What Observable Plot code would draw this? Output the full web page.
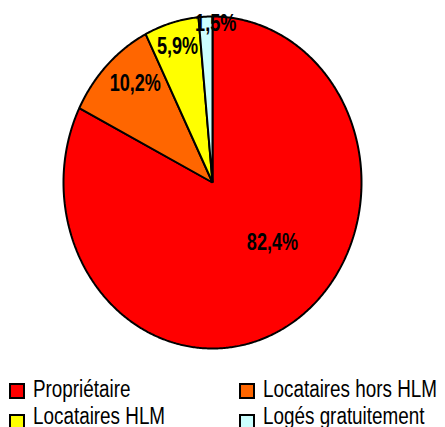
<!DOCTYPE html>
<html><head><meta charset="utf-8">
<script src="https://cdn.jsdelivr.net/npm/d3@7"></script>
<script src="https://cdn.jsdelivr.net/npm/@observablehq/plot@0.6"></script>
<style>
body{margin:0;background:#fff;}
#chart{position:relative;width:445px;height:427px;overflow:hidden;font-family:"Liberation Sans",Arial,sans-serif;}
#chart svg{position:absolute;left:0;top:0;}
.sw{position:absolute;width:16px;height:16px;box-sizing:border-box;border:2px solid #000;}
.lt{position:absolute;font-size:23px;line-height:23px;white-space:nowrap;color:#000;transform:scaleX(0.82);transform-origin:0 0;}
</style></head><body><div id="chart"></div><script>
const categories = ["Propriétaire","Locataires hors HLM","Locataires HLM","Logés gratuitement"];
const values = [82.4, 10.2, 5.9, 1.5];
const labels = ["82,4%","10,2%","5,9%","1,5%"];
const colors = ["#ff0000","#ff6600","#ffff00","#ccffff"];
const labelRadius = [0.54, 0.79, 0.85, 0.96];
const labelTurn = [-16.5, 4, 0, 4];

const data = categories.map((c,i)=>({cat:c, value:values[i], label:labels[i], i}));
const arcs = d3.pie().sort(null).value(d=>d.value)(data);

const slices = arcs.map(a=>{
  const pts=[{x:0,y:0}];
  const n=Math.max(2,Math.ceil((a.endAngle-a.startAngle)/(Math.PI/360)));
  for(let k=0;k<=n;k++){
    const t=a.startAngle+(a.endAngle-a.startAngle)*k/n;
    pts.push({x:Math.sin(t),y:Math.cos(t)});
  }
  return pts;
});
const labelData = arcs.map(a=>{
  const i=a.data.i;
  const t=(a.startAngle+a.endAngle)/2+labelTurn[i]*Math.PI/180;
  return {x:labelRadius[i]*Math.sin(t), y:labelRadius[i]*Math.cos(t), text:a.data.label};
});

const font='"Liberation Sans",Arial,sans-serif';
const plot = Plot.plot({
  width:445, height:370, margin:0,
  style:{background:"transparent"},
  x:{domain:[-1,1], range:[63,361], axis:null},
  y:{domain:[-1,1], range:[348,16], axis:null},
  marks:[
    ...slices.map((pts,i)=>Plot.line(pts,{x:"x",y:"y",curve:"linear-closed",fill:colors[i],stroke:"#000",strokeWidth:2,strokeLinejoin:"miter"})),
    Plot.text(labelData,{x:"x",y:"y",text:"text",fontSize:23.5,fontWeight:"bold",fontFamily:font,fill:"#000"})
  ]
});
const chart=document.getElementById("chart");
chart.appendChild(plot);
plot.querySelectorAll("text").forEach(t=>{
  const w=t.getComputedTextLength();
  t.setAttribute("textLength",(w*0.77).toFixed(1));
  t.setAttribute("lengthAdjust","spacingAndGlyphs");
});

const legPos=[{sx:9,sy:383,tx:33,ty:377.5},{sx:239,sy:383,tx:263,ty:377.5},{sx:9,sy:414,tx:33,ty:404.5},{sx:239,sy:414,tx:263,ty:404.5}];
categories.forEach((c,i)=>{
  const p=legPos[i];
  const s=document.createElement("div");s.className="sw";s.style.left=p.sx+"px";s.style.top=p.sy+"px";s.style.background=colors[i];chart.appendChild(s);
  const t=document.createElement("div");t.className="lt";t.style.left=p.tx+"px";t.style.top=p.ty+"px";t.textContent=c;chart.appendChild(t);
});
</script></body></html>
